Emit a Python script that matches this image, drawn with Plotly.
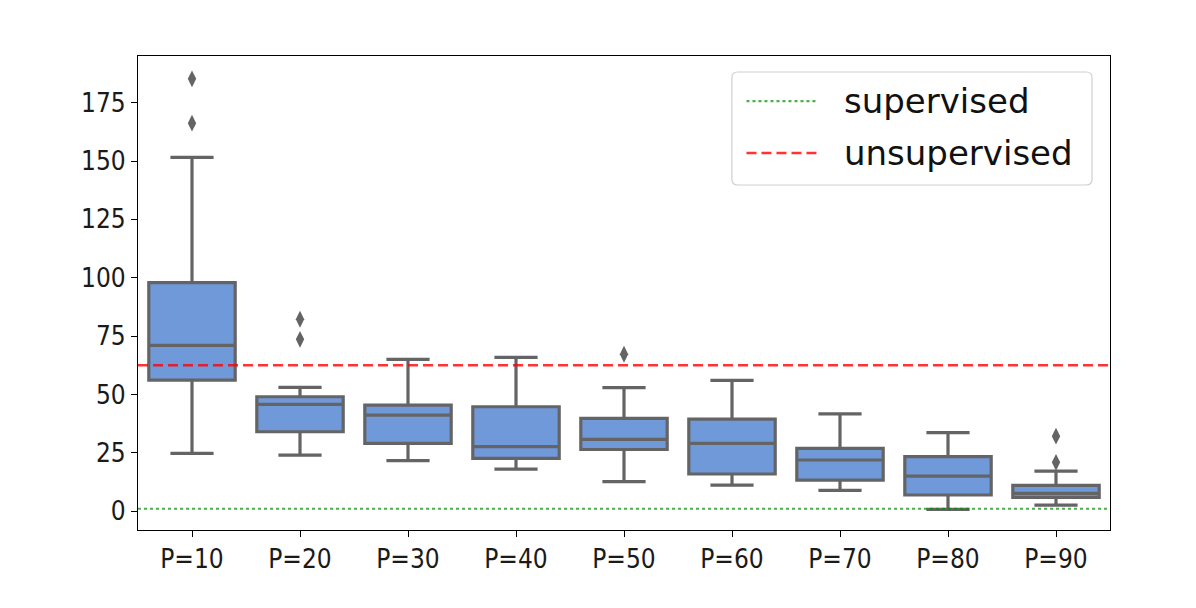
import plotly.graph_objects as go

categories = ["P=10", "P=20", "P=30", "P=40", "P=50", "P=60", "P=70", "P=80", "P=90"]
lower_whisker = [24.7, 24.0, 21.6, 18.0, 12.6, 11.1, 8.9, 0.7, 2.6]
q1 = [56.1, 34.0, 29.0, 22.6, 26.4, 15.9, 13.3, 6.9, 5.9]
median = [71.0, 45.7, 41.1, 27.6, 30.7, 29.0, 21.9, 15.0, 7.6]
q3 = [97.9, 49.0, 45.4, 44.7, 39.7, 39.4, 26.9, 23.3, 11.0]
upper_whisker = [151.6, 53.0, 65.0, 65.9, 52.9, 56.0, 41.7, 33.6, 17.1]
outlier_cat = [0, 0, 1, 1, 4, 8, 8]
outlier_val = [185.2, 166.2, 82.2, 73.6, 67.2, 32.1, 20.9]
supervised = 1.0
unsupervised = 62.5
legend_names = ["supervised", "unsupervised"]

positions = list(range(len(categories)))
gray = "#646464"
green = "rgba(0,140,0,0.7)"
red = "rgba(255,0,0,0.8)"

fig = go.Figure()
fig.add_trace(go.Box(
    x=positions, q1=q1, median=median, q3=q3,
    lowerfence=lower_whisker, upperfence=upper_whisker,
    width=0.8, whiskerwidth=0.5,
    fillcolor="#7099DA", line=dict(color=gray, width=3.2),
    boxpoints=False, showlegend=False, hoverinfo="skip",
))
fig.add_trace(go.Scatter(
    x=outlier_cat, y=outlier_val, mode="markers",
    marker=dict(symbol="diamond-tall", size=12, color=gray),
    showlegend=False, hoverinfo="skip",
))
fig.add_trace(go.Scatter(
    x=[-0.5, len(categories) - 0.5], y=[supervised, supervised], mode="lines",
    line=dict(color=green, width=2.2, dash="dot"),
    name=legend_names[0], showlegend=False,
))
fig.add_trace(go.Scatter(
    x=[-0.5, len(categories) - 0.5], y=[unsupervised, unsupervised], mode="lines",
    line=dict(color=red, width=2.5, dash="10px,5px"),
    name=legend_names[1], showlegend=False,
))

# legend drawn by hand (matplotlib-style long line samples, rounded frame)
x0, x1, yb, yt = 0.611, 0.9815, 0.7278, 0.9662
rx, ry = 0.006, 0.012
path = (f"M {x0+rx},{yb} L {x1-rx},{yb} Q {x1},{yb} {x1},{yb+ry} "
        f"L {x1},{yt-ry} Q {x1},{yt} {x1-rx},{yt} L {x0+rx},{yt} "
        f"Q {x0},{yt} {x0},{yt-ry} L {x0},{yb+ry} Q {x0},{yb} {x0+rx},{yb} Z")
shapes = [dict(type="path", xref="paper", yref="paper", path=path,
               fillcolor="rgba(255,255,255,0.85)", line=dict(color="#d0d0d0", width=1.2))]
annotations = []
rows = [(0.905, green, 2.2, "dot"), (0.7954, red, 2.5, "10px,5px")]
for name, (yy, col, w, d) in zip(legend_names, rows):
    shapes.append(dict(type="line", xref="paper", yref="paper",
                       x0=0.626, x1=0.698, y0=yy, y1=yy,
                       line=dict(color=col, width=w, dash=d)))
    annotations.append(dict(xref="paper", yref="paper", x=0.7243, y=yy,
                            xanchor="left", yanchor="middle", showarrow=False,
                            text=name, font=dict(family="DejaVu Sans", size=34, color="#111111")))

fig.update_layout(
    width=1180, height=592,
    margin=dict(l=130, r=78, t=48, b=70),
    paper_bgcolor="white", plot_bgcolor="white",
    font=dict(family="DejaVu Sans Condensed, DejaVu Sans", size=26, color="#1a1a1a"),
    shapes=shapes, annotations=annotations, showlegend=False,
)
fig.update_xaxes(
    range=[-0.5, len(categories) - 0.5],
    tickmode="array", tickvals=positions, ticktext=categories,
    showline=True, linecolor="black", linewidth=1.2, mirror=True,
    ticks="outside", ticklen=6, tickcolor="black", showgrid=False, zeroline=False,
)
fig.update_yaxes(
    range=[-8.1, 195],
    tickmode="array", tickvals=[0, 25, 50, 75, 100, 125, 150, 175],
    showline=True, linecolor="black", linewidth=1.2, mirror=True,
    ticks="outside", ticklen=6, tickcolor="black", showgrid=False, zeroline=False,
)

fig.write_html("out.html")
